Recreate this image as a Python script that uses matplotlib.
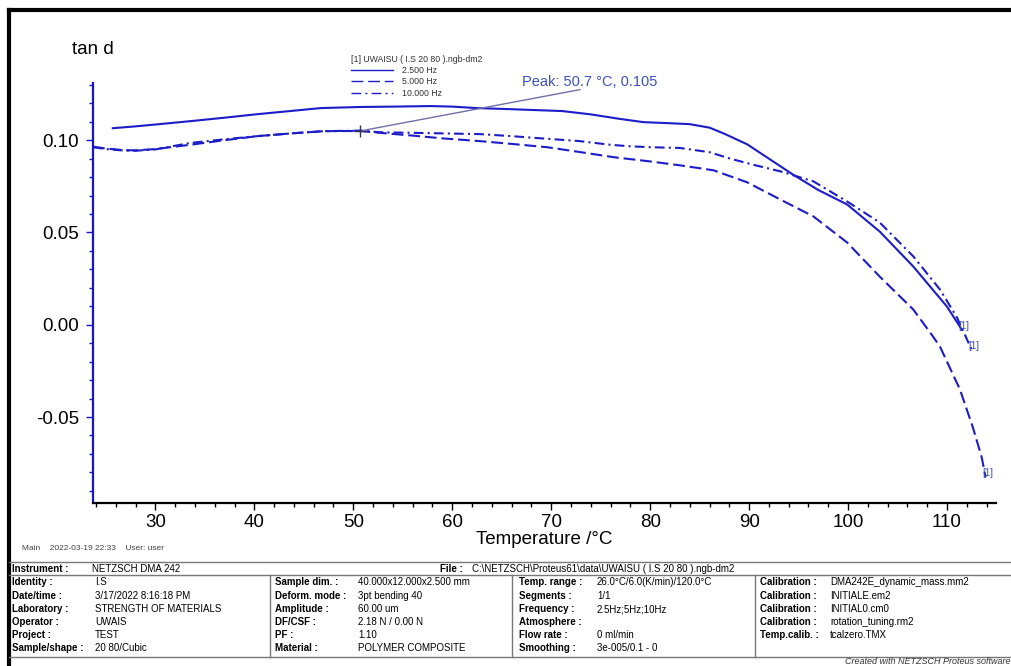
import matplotlib
matplotlib.use("Agg")
import matplotlib.pyplot as plt
from matplotlib.lines import Line2D
from matplotlib.ticker import MultipleLocator, FormatStrFormatter

plt.rcParams['font.family'] = ['Liberation Sans', 'DejaVu Sans']
plt.rcParams['axes.unicode_minus'] = False
plt.rcParams['lines.scale_dashes'] = False

# tan d vs temperature, three frequencies
temp_2_5hz = [25.7, 28, 30, 33.5, 37, 40.3, 44, 46.7, 50.7, 54, 57.8, 60, 62.5, 66,
              68.5, 71.1, 74, 77, 79.3, 82, 84, 86, 87.5, 89.8, 92, 94.4, 97, 99.9,
              103.2, 106.6, 110, 111.5]
tand_2_5hz = [0.1065, 0.1075, 0.1085, 0.1103, 0.1122, 0.1141, 0.1160, 0.1174, 0.1180,
              0.1182, 0.1185, 0.1182, 0.1174, 0.1168, 0.1163, 0.1158, 0.1140, 0.1115,
              0.1098, 0.1092, 0.1087, 0.1068, 0.1035, 0.0978, 0.0900, 0.0815, 0.0730,
              0.0652, 0.0505, 0.0315, 0.0098, -0.0027]

temp_5hz = [23.7, 25, 26.8, 28, 30, 33.5, 37, 40.3, 44, 47, 50.7, 52.7, 56, 59, 62.8,
            66, 69.6, 73, 76.3, 80, 83, 86.4, 89.8, 93.1, 96.5, 99.9, 103.2, 106.6,
            108.6, 109.3, 111.3, 112.6, 113.5, 113.9]
tand_5hz = [0.0965, 0.0955, 0.0946, 0.0945, 0.0952, 0.0975, 0.1000, 0.1022, 0.1038,
            0.1049, 0.1050, 0.1040, 0.1025, 0.1010, 0.0995, 0.0980, 0.0962, 0.0935,
            0.0908, 0.0885, 0.0864, 0.0837, 0.0772, 0.0680, 0.0587, 0.0446, 0.0261,
            0.0082, -0.0065, -0.0120, -0.0350, -0.0554, -0.0717, -0.0826]

temp_10hz = [23.7, 25, 26.8, 28, 30, 33.5, 37, 40.3, 44, 47, 50.7, 52.7, 56, 59, 62.8,
             66, 69, 72.9, 76, 78, 80, 83, 86, 88.1, 90.5, 93.1, 96.5, 99.9, 103.2,
             106.6, 109.3, 111, 112.5]
tand_10hz = [0.0962, 0.0952, 0.0944, 0.0943, 0.0950, 0.0985, 0.1005, 0.1022, 0.1038,
             0.1049, 0.1052, 0.1043, 0.1040, 0.1037, 0.1033, 0.1022, 0.1010, 0.0995,
             0.0975, 0.0967, 0.0962, 0.0958, 0.0935, 0.0900, 0.0866, 0.0832, 0.0777,
             0.0668, 0.0554, 0.0370, 0.0190, 0.0040, -0.0136]

peak_temp, peak_val = 50.7, 0.105
freq_labels = ['2.500 Hz', '5.000 Hz', '10.000 Hz']
file_name = '[1] UWAISU ( I.S 20 80 ).ngb-dm2'

info_cols = [
    [('Identity :', 'I.S'), ('Date/time :', '3/17/2022 8:16:18 PM'),
     ('Laboratory :', 'STRENGTH OF MATERIALS'), ('Operator :', 'UWAIS'),
     ('Project :', 'TEST'), ('Sample/shape :', '20 80/Cubic')],
    [('Sample dim. :', '40.000x12.000x2.500 mm'), ('Deform. mode :', '3pt bending 40'),
     ('Amplitude :', '60.00 um'), ('DF/CSF :', '2.18 N / 0.00 N'),
     ('PF :', '1.10'), ('Material :', 'POLYMER COMPOSITE')],
    [('Temp. range :', '26.0°C/6.0(K/min)/120.0°C'), ('Segments :', '1/1'),
     ('Frequency :', '2.5Hz;5Hz;10Hz'), ('Atmosphere :', ''),
     ('Flow rate :', '0 ml/min'), ('Smoothing :', '3e-005/0.1 - 0')],
    [('Calibration :', 'DMA242E_dynamic_mass.mm2'), ('Calibration :', 'INITIALE.em2'),
     ('Calibration :', 'INITIAL0.cm0'), ('Calibration :', 'rotation_tuning.rm2'),
     ('Temp.calib. :', 'tcalzero.TMX'), ('', '')],
]

W, H = 1011, 666


def fx(x):
    return x / W


def fy(y):
    return 1 - y / H


blue = '#1c1cc8'
fig = plt.figure(figsize=(W / 100, H / 100), dpi=100)
ax = fig.add_axes([fx(93), fy(503), fx(996) - fx(93), fy(83) - fy(503)])

l1, = ax.plot(temp_2_5hz, tand_2_5hz, color=blue, lw=1.5)
l2, = ax.plot(temp_5hz, tand_5hz, color=blue, lw=1.5, dashes=(8.5, 3.5))
l3, = ax.plot(temp_10hz, tand_10hz, color=blue, lw=1.5, dashes=(7, 3, 1.5, 3))

# end-of-curve tags
for t, v in [(temp_2_5hz[-1], tand_2_5hz[-1]), (temp_5hz[-1], tand_5hz[-1]),
             (temp_10hz[-1], tand_10hz[-1])]:
    ax.text(t + 0.2, v + 0.002, '[1]', fontsize=7, color='#3a4cc0', ha='center',
            va='center')

# peak marker and label
ax.plot([peak_temp], [peak_val], marker='+', color='#333355', ms=8, mew=1)
ax.annotate('', xy=(peak_temp, peak_val), xytext=(73.2, 0.1277),
            arrowprops=dict(arrowstyle='-', color='#7070a8', lw=1))
ax.text(67.1, 0.1315, 'Peak: %.1f °C, %.3f' % (peak_temp, peak_val), fontsize=10.5,
        color='#3c50c4', va='center', ha='left', clip_on=False)

ax.set_xlim(23.7, 114.95)
ax.set_ylim(-0.0966, 0.131)
ax.xaxis.set_major_locator(MultipleLocator(10))
ax.xaxis.set_minor_locator(MultipleLocator(2))
ax.yaxis.set_major_locator(MultipleLocator(0.05))
ax.yaxis.set_minor_locator(MultipleLocator(0.01))
ax.yaxis.set_major_formatter(FormatStrFormatter('%.2f'))

for s in ['top', 'right']:
    ax.spines[s].set_visible(False)
ax.spines['left'].set_color('#1515d0')
ax.spines['left'].set_linewidth(1.6)
ax.spines['bottom'].set_color('black')
ax.spines['bottom'].set_linewidth(1.6)
ax.tick_params(axis='both', which='major', labelsize=13.5, length=5, width=1)
ax.tick_params(axis='both', which='minor', length=3, width=1)
ax.tick_params(axis='y', which='both', color='#1515d0', pad=5)
ax.tick_params(axis='x', which='both', color='black', pad=3)

leg = ax.legend([l1, l2, l3], freq_labels, title=file_name, loc='upper left',
                bbox_to_anchor=(fx(345), fy(49)), bbox_transform=fig.transFigure,
                frameon=False, fontsize=6.3, title_fontsize=6.3, alignment='left',
                handlelength=4.8, handletextpad=1.0, labelspacing=0.25,
                borderpad=0.2)
for t in leg.get_texts():
    t.set_color('#333333')
leg.get_title().set_color('#333333')
for h in leg.legend_handles:
    h.set_linewidth(1.0)

fig.text(fx(72), fy(50), 'tan d', fontsize=13.5, va='center')
fig.text(fx(544), fy(539), 'Temperature /°C', fontsize=13.5, ha='center', va='center')

# outer frame
fig.add_artist(Line2D([fx(9), fx(9)], [fy(10), fy(664)], color='black', lw=3))
fig.add_artist(Line2D([fx(9), fx(1011)], [fy(10), fy(10)], color='black', lw=3))

fig.text(fx(22), fy(549), 'Main    2022-03-19 22:33    User: user', fontsize=6,
         color='#444444', va='center')

# info table
grey = '#777777'
for y in [562, 575, 657]:
    fig.add_artist(Line2D([fx(9), fx(1011)], [fy(y), fy(y)], color=grey, lw=1))
for x in [270, 512, 755]:
    fig.add_artist(Line2D([fx(x), fx(x)], [fy(575), fy(657)], color=grey, lw=1))

fig.text(fx(12), fy(569), 'Instrument :', fontsize=7, weight='bold', va='center')
fig.text(fx(92), fy(569), 'NETZSCH DMA 242', fontsize=7, va='center')
fig.text(fx(440), fy(569), 'File :', fontsize=7, weight='bold', va='center')
fig.text(fx(472), fy(569), r'C:\NETZSCH\Proteus61\data\UWAISU ( I.S 20 80 ).ngb-dm2',
         fontsize=7, va='center')

label_x = [12, 275, 519, 760]
value_x = [95, 358, 597, 830]
row_y = [582, 596, 609, 622, 635, 648]
for col, lx, vx in zip(info_cols, label_x, value_x):
    for (lab, val), y in zip(col, row_y):
        fig.text(fx(lx), fy(y), lab, fontsize=7, weight='bold', va='center')
        fig.text(fx(vx), fy(y), val, fontsize=7, va='center')

fig.text(fx(845), fy(662), 'Created with NETZSCH Proteus software', fontsize=6.5,
         style='italic', color='#333333', va='center')

fig.savefig('out.png', dpi=100)
